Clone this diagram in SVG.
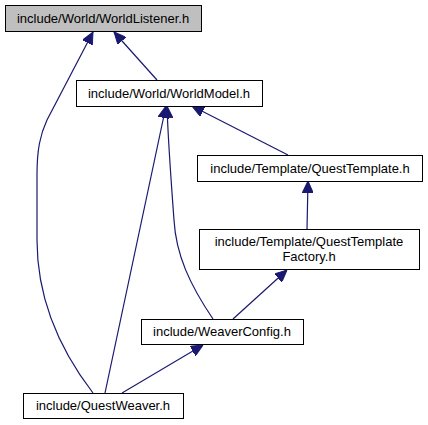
<svg xmlns="http://www.w3.org/2000/svg" width="428" height="425" viewBox="0 0 428 425">
<style>
.box{fill:#ffffff;stroke:#000000;stroke-width:1}
.root{fill:#bfbfbf;stroke:#000000;stroke-width:1}
.lbl{font-family:"Liberation Sans",Arial,sans-serif;font-size:13px;fill:#000000;text-anchor:middle}
.edge{fill:none;stroke:#191970;stroke-width:1.2;marker-end:url(#arr)}
</style>
<defs>
<marker id="arr" markerUnits="userSpaceOnUse" markerWidth="12" markerHeight="11" refX="12" refY="5.5" orient="auto" viewBox="0 0 12 11">
<path d="M0,0 L12,5.5 L0,11 z" fill="#191970" stroke="#191970" stroke-width="1"/>
</marker>
</defs>
<rect width="428" height="425" fill="#ffffff"/>
<g id="edges">
<path class="edge" d="M157,80 L114,32"/>
<path class="edge" d="M93,393 C60,350 37,300 37,240 L37,175 C37,150 40,135 47,120 L93,32"/>
<path class="edge" d="M288,155 L192,106"/>
<path class="edge" d="M105,393 L166,106"/>
<path class="edge" d="M213,319 C190,285 176,255 174,220 C171,180 168,140 167,106"/>
<path class="edge" d="M307,229 L308,181"/>
<path class="edge" d="M233,319 L287,270"/>
<path class="edge" d="M122,393 L203,345"/>
</g>
<g id="node-WorldListener">
<rect class="root" x="5.5" y="5.5" width="196" height="26"/>
<text class="lbl" x="103" y="23">include/World/WorldListener.h</text>
</g>
<g id="node-WorldModel">
<rect class="box" x="76.5" y="80.5" width="186" height="26"/>
<text class="lbl" x="169" y="98">include/World/WorldModel.h</text>
</g>
<g id="node-QuestTemplate">
<rect class="box" x="197.5" y="155.5" width="225" height="26"/>
<text class="lbl" x="310" y="173">include/Template/QuestTemplate.h</text>
</g>
<g id="node-QuestTemplateFactory">
<rect class="box" x="199.5" y="229.5" width="220" height="40"/>
<text class="lbl" x="309" y="246">include/Template/QuestTemplate</text>
<text class="lbl" x="309" y="261">Factory.h</text>
</g>
<g id="node-WeaverConfig">
<rect class="box" x="141.5" y="319.5" width="162" height="25"/>
<text class="lbl" x="222" y="336">include/WeaverConfig.h</text>
</g>
<g id="node-QuestWeaver">
<rect class="box" x="23.5" y="393.5" width="160" height="25"/>
<text class="lbl" x="103" y="410">include/QuestWeaver.h</text>
</g>
</svg>
